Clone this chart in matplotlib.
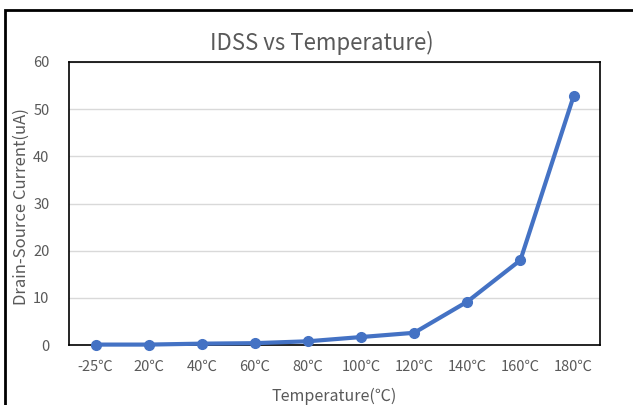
import matplotlib.pyplot as plt
from matplotlib.patches import Rectangle

plt.rcParams['font.family'] = ['Noto Sans CJK SC', 'DejaVu Sans']
plt.rcParams['font.weight'] = 'light'

temps = ['-25℃', '20℃', '40℃', '60℃', '80℃', '100℃', '120℃', '140℃', '160℃', '180℃']
idss = [0.1, 0.1, 0.3, 0.4, 0.8, 1.7, 2.6, 9.2, 18.0, 52.7]

grey = '#595959'
blue = '#4472C4'

fig = plt.figure(figsize=(6.33, 4.05), dpi=100)
ax = fig.add_axes([0.109, 0.148, 0.839, 0.699])

# outer chart border
fig.patches.append(Rectangle((5 / 633, -0.1), 1.2, (395 / 405) + 0.1, transform=fig.transFigure,
                             fill=False, edgecolor='black', linewidth=2))

x = list(range(len(temps)))
ax.plot(x, idss, color=blue, linewidth=3, marker='o', markersize=7, zorder=3, clip_on=False)

ax.set_xlim(-0.5, len(temps) - 0.5)
ax.set_ylim(0, 60)
ax.set_yticks(range(0, 61, 10))
ax.set_xticks(x)
ax.set_xticklabels(temps)
ax.grid(axis='y', color='#d9d9d9', linewidth=1)
ax.set_axisbelow(True)
for s in ax.spines.values():
    s.set_color('black')
    s.set_linewidth(1.2)
ax.tick_params(length=0, colors=grey, labelsize=10.5)
ax.tick_params(axis='x', pad=11)
ax.tick_params(axis='y', pad=14)

fig.text(0.508, 0.895, 'IDSS vs Temperature)', color=grey, fontsize=16, ha='center', va='center')
ax.set_xlabel('Temperature(℃)', color=grey, fontsize=11.5, labelpad=10)
ax.set_ylabel('Drain-Source Current(uA)', color=grey, fontsize=12)
ax.yaxis.set_label_coords(-0.073, 0.49)

plt.savefig('out.png', dpi=100)
